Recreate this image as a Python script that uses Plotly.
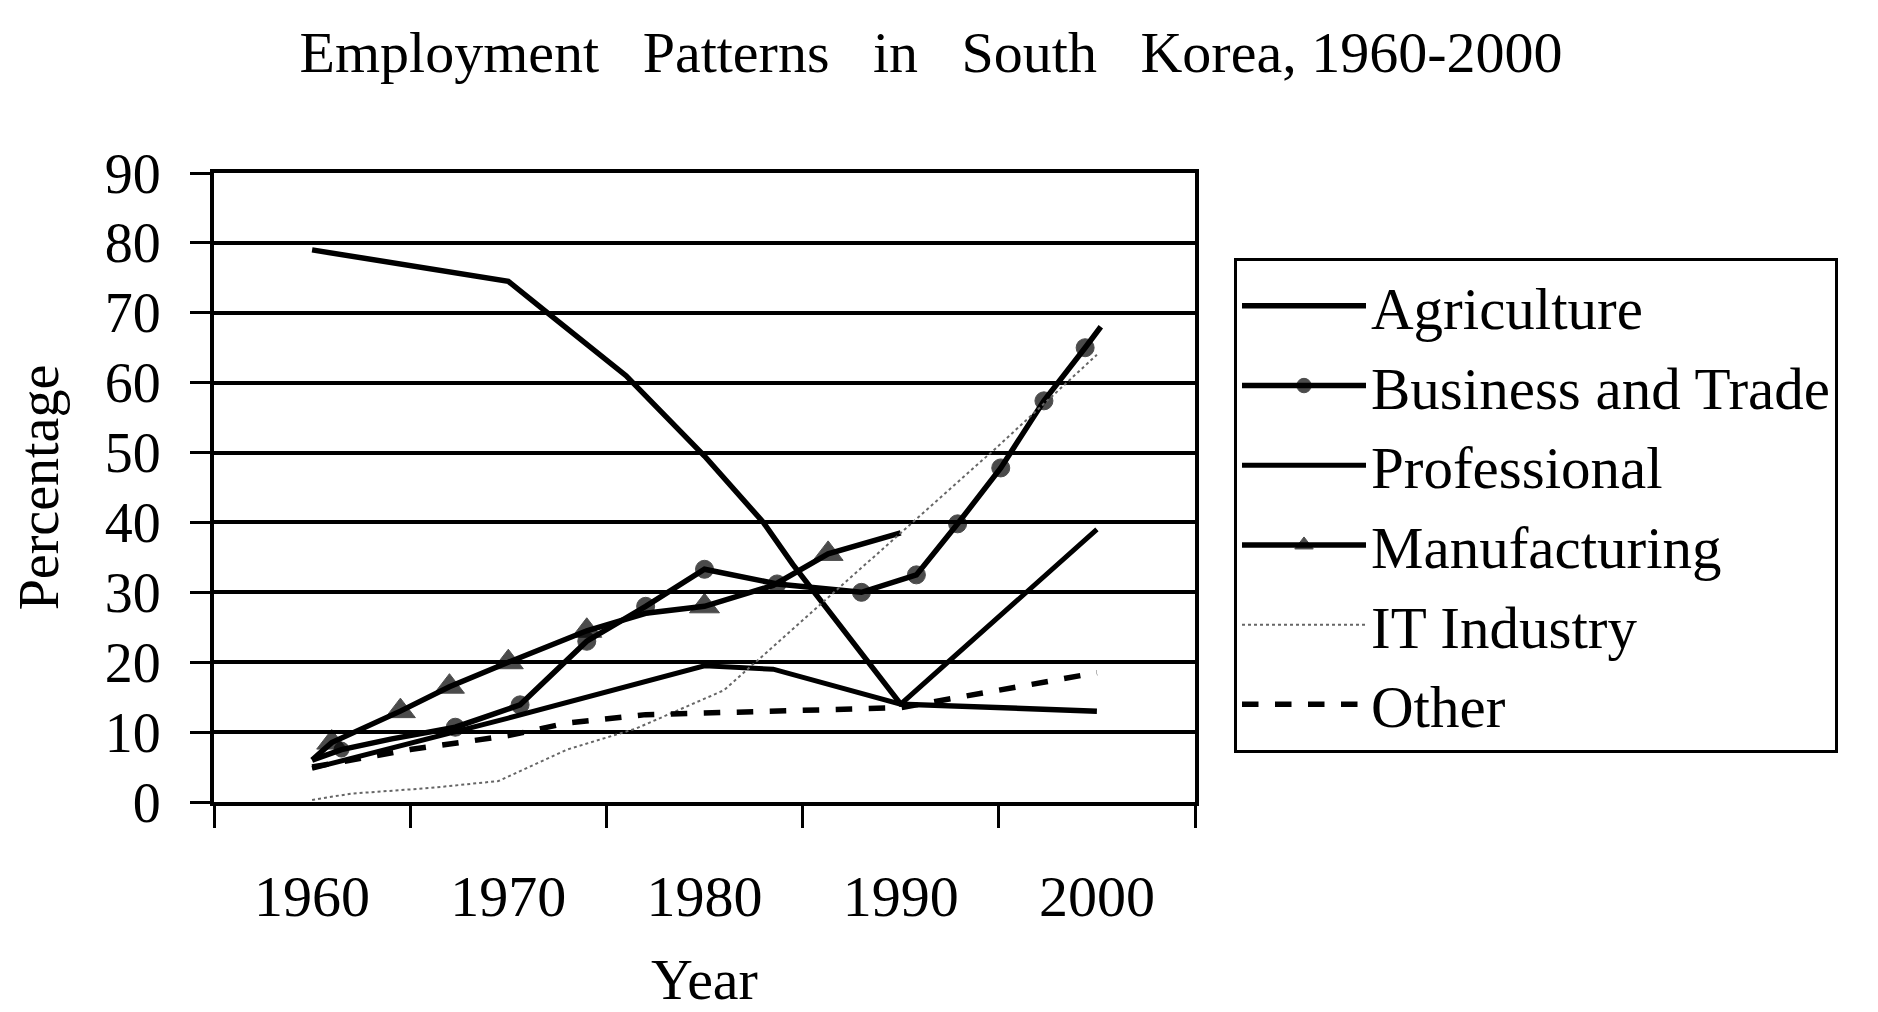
import plotly.graph_objects as go

# ---------------- data ----------------
year_ticks = [1960, 1970, 1980, 1990, 2000]
year_tick_text = ["1960", "1970", "1980", "1990", "2000"]
boundary_ticks = [1955, 1965, 1975, 1985, 1995, 2005]
y_ticks = [0, 10, 20, 30, 40, 50, 60, 70, 80, 90]

agri_x = [1960, 1970, 1972, 1976, 1980, 1983, 1984.5, 1986, 1990, 2000]
agri_y = [79, 74.5, 70, 61, 49.5, 40, 34, 28.5, 14, 13]

bus_x = [1960, 1961.5, 1964, 1967.3, 1970.6, 1974, 1977, 1980, 1983.7, 1988, 1990.8, 1992.9, 1995.1, 1997.3, 1999.4, 2000.2]
bus_y = [6, 7.5, 9, 10.7, 13.9, 23, 28, 33.3, 31.2, 30, 32.5, 39.8, 47.8, 57.4, 65, 68]

prof_x = [1960, 1970, 1980, 1983.5, 1990, 2000]
prof_y = [4.8, 12, 19.5, 19, 14, 39]

manu_x = [1960, 1961, 1964.5, 1967, 1970, 1974, 1977, 1980, 1983.5, 1986.3, 1990]
manu_y = [6, 8.5, 13, 16.5, 20, 24.5, 27, 28, 31, 35.5, 38.5]

it_x = [1960, 1962, 1966, 1969.5, 1973, 1976.5, 1981, 1985, 1990, 1995, 2000]
it_y = [0.3, 1.2, 2, 3, 7.5, 10.5, 16, 26, 38.5, 51, 64]

other_x = [1960, 1965, 1970, 1973, 1977, 1985, 1990, 2000]
other_y = [5, 7.5, 9.5, 11.3, 12.5, 13, 13.5, 18.5]

# ---------------- style ----------------
FONT = "Liberation Serif, Times New Roman, serif"
BLACK = "black"
# the page body adds an 8px margin around the figure
W, H = 1862, 1004
OFF = 8

bus_marker_sizes = [0, 15, 0] + [18] * 12 + [0]
manu_marker_sizes = [0] + [26] * 5 + [0, 26, 0, 26, 0]

fig = go.Figure()
fig.add_trace(go.Scatter(x=agri_x, y=agri_y, name="Agriculture", mode="lines",
                         line=dict(color=BLACK, width=5.5)))
fig.add_trace(go.Scatter(x=bus_x, y=bus_y, name="Business and Trade", mode="lines+markers",
                         line=dict(color=BLACK, width=5.5),
                         marker=dict(symbol="circle", size=bus_marker_sizes, color=BLACK,
                                     line=dict(color=BLACK, width=1))))
fig.add_trace(go.Scatter(x=prof_x, y=prof_y, name="Professional", mode="lines",
                         line=dict(color=BLACK, width=5)))
fig.add_trace(go.Scatter(x=manu_x, y=manu_y, name="Manufacturing", mode="lines+markers",
                         line=dict(color=BLACK, width=5.5),
                         marker=dict(symbol="triangle-up", size=manu_marker_sizes, color=BLACK,
                                     line=dict(color=BLACK, width=1))))
fig.add_trace(go.Scatter(x=it_x, y=it_y, name="IT Industry", mode="lines",
                         line=dict(color="#666666", width=2, dash="dot")))
fig.add_trace(go.Scatter(x=other_x, y=other_y, name="Other", mode="lines",
                         line=dict(color=BLACK, width=5.5, dash="dash")))

plot_left, plot_right, plot_top, plot_bottom = 214 - OFF, 1195 - OFF, 173 - OFF, 802 - OFF

fig.update_layout(
    width=W, height=H,
    paper_bgcolor="white", plot_bgcolor="white",
    margin=dict(l=plot_left, r=W - plot_right, t=plot_top, b=H - plot_bottom, autoexpand=False),
    font=dict(family=FONT, color=BLACK, size=58),
    title=dict(
        text="Employment\u00a0\u00a0 Patterns\u00a0\u00a0 in\u00a0\u00a0 South\u00a0\u00a0 Korea, 1960-2000",
        x=(931 - OFF) / W, xref="container", xanchor="center",
        y=1 - (52 - OFF) / H, yref="container", yanchor="middle",
        font=dict(family=FONT, size=58, color=BLACK)),
    showlegend=True,
    legend=dict(
        x=(1234 - 214) / (1195 - 214), xanchor="left",
        y=(802 - 258) / (802 - 173), yanchor="top",
        bordercolor=BLACK, borderwidth=3, bgcolor="white",
        font=dict(family=FONT, size=59, color=BLACK),
        itemwidth=124),
)

fig.update_xaxes(
    range=[1955, 2005], automargin=False,
    tickmode="array", tickvals=year_ticks, ticktext=year_tick_text,
    ticks="", ticklabelstandoff=40,
    tickfont=dict(family=FONT, size=58, color=BLACK),
    minor=dict(tickmode="array", tickvals=boundary_ticks, ticks="outside",
               ticklen=22, tickwidth=3, tickcolor=BLACK, showgrid=False),
    showgrid=False, zeroline=False,
    showline=True, linewidth=4, linecolor=BLACK, mirror=True,
    title=dict(text="Year", font=dict(family=FONT, size=58, color=BLACK), standoff=60),
)
fig.update_yaxes(
    range=[0, 90], automargin=False,
    tickmode="array", tickvals=y_ticks,
    ticks="outside", ticklen=20, tickwidth=3, tickcolor=BLACK,
    ticklabelstandoff=18,
    tickfont=dict(family=FONT, size=56, color=BLACK),
    showgrid=True, gridcolor=BLACK, gridwidth=4,
    zeroline=False,
    showline=True, linewidth=4, linecolor=BLACK, mirror=True,
    title=dict(text="Percentage", font=dict(family=FONT, size=56, color=BLACK), standoff=30),
)

fig.write_html("out.html")
